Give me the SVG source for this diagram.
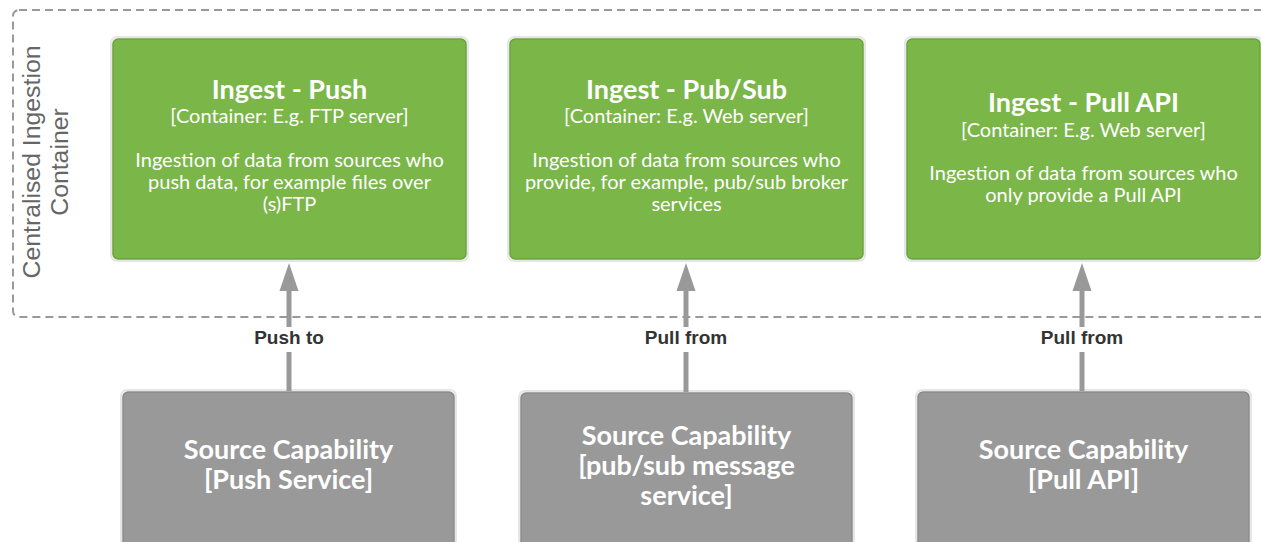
<svg xmlns="http://www.w3.org/2000/svg" width="1261" height="542" viewBox="0 0 1261 542">
<style>
.green{fill:#7ab648;stroke:#6aa23c;stroke-width:1.5}
.gray{fill:#999999;stroke:#8a8a8a;stroke-width:1.5}
.halo{fill:none;stroke:#e6e6e6;stroke-width:2}
.t{font-family:Lato,"Open Sans",sans-serif;fill:#ffffff;text-anchor:middle}
.title{font-size:27px;font-weight:bold}
.sub{font-size:20px}
.desc{font-size:20px}
.src{font-size:27px;font-weight:bold}
.lbl{font-family:"Liberation Sans",Arial,sans-serif;font-size:19px;font-weight:bold;fill:#333333;text-anchor:middle}
.cont{font-family:"Liberation Sans",Arial,sans-serif;font-size:24.8px;fill:#666666;text-anchor:middle}
.edge{stroke:#999999;stroke-width:5;fill:none}
.head{fill:#999999}
</style>
<rect width="1261" height="542" fill="#ffffff"/>
<g id="container">
<rect x="13" y="10" width="1270" height="307" rx="6" fill="none" stroke="#999999" stroke-width="2" stroke-dasharray="8,5"/>
<text class="cont" transform="translate(40,162) rotate(-90)">Centralised Ingestion</text>
<text class="cont" transform="translate(68,162) rotate(-90)">Container</text>
</g>
<g id="ingest-push">
<rect class="halo" x="111" y="37" width="357" height="224" rx="6"/>
<rect class="green" x="113" y="39" width="353" height="220" rx="5"/>
<text class="t title" x="289.5" y="99">Ingest - Push</text>
<text class="t sub" x="289.5" y="123">[Container: E.g. FTP server]</text>
<text class="t desc" x="289.5" y="167">Ingestion of data from sources who</text>
<text class="t desc" x="289.5" y="189">push data, for example files over</text>
<text class="t desc" x="289.5" y="211">(s)FTP</text>
</g>
<g id="ingest-pubsub">
<rect class="halo" x="508" y="37" width="357" height="224" rx="6"/>
<rect class="green" x="510" y="39" width="353" height="220" rx="5"/>
<text class="t title" x="686.5" y="99">Ingest - Pub/Sub</text>
<text class="t sub" x="686.5" y="123">[Container: E.g. Web server]</text>
<text class="t desc" x="686.5" y="167">Ingestion of data from sources who</text>
<text class="t desc" x="686.5" y="189">provide, for example, pub/sub broker</text>
<text class="t desc" x="686.5" y="211">services</text>
</g>
<g id="ingest-pull">
<rect class="halo" x="905" y="37" width="357" height="224" rx="6"/>
<rect class="green" x="907" y="39" width="353" height="220" rx="5"/>
<text class="t title" x="1083.5" y="112">Ingest - Pull API</text>
<text class="t sub" x="1083.5" y="137">[Container: E.g. Web server]</text>
<text class="t desc" x="1083.5" y="180">Ingestion of data from sources who</text>
<text class="t desc" x="1083.5" y="202">only provide a Pull API</text>
</g>
<g id="source-push">
<rect class="halo" x="121" y="390" width="335" height="160" rx="6"/>
<rect class="gray" x="123" y="392" width="331" height="156" rx="5"/>
<text class="t src" x="288.5" y="459">Source Capability</text>
<text class="t src" x="288.5" y="489">[Push Service]</text>
</g>
<g id="source-pubsub">
<rect class="halo" x="519" y="391" width="335" height="160" rx="6"/>
<rect class="gray" x="521" y="393" width="331" height="156" rx="5"/>
<text class="t src" x="686.5" y="445">Source Capability</text>
<text class="t src" x="686.5" y="475">[pub/sub message</text>
<text class="t src" x="686.5" y="505">service]</text>
</g>
<g id="source-pull">
<rect class="halo" x="916" y="390" width="335" height="160" rx="6"/>
<rect class="gray" x="918" y="392" width="331" height="156" rx="5"/>
<text class="t src" x="1083.5" y="459">Source Capability</text>
<text class="t src" x="1083.5" y="489">[Pull API]</text>
</g>
<g id="connectors">
<line class="edge" x1="289" y1="391" x2="289" y2="288"/>
<polygon class="head" points="289,263 298.5,291 279.5,291"/>
<rect x="246" y="327" width="86" height="25" fill="#ffffff"/>
<text class="lbl" x="289" y="344">Push to</text>
<line class="edge" x1="686" y1="392" x2="686" y2="288"/>
<polygon class="head" points="686,263 695.5,291 676.5,291"/>
<rect x="636" y="327" width="100" height="25" fill="#ffffff"/>
<text class="lbl" x="686" y="344">Pull from</text>
<line class="edge" x1="1082" y1="391" x2="1082" y2="288"/>
<polygon class="head" points="1082,263 1091.5,291 1072.5,291"/>
<rect x="1032" y="327" width="100" height="25" fill="#ffffff"/>
<text class="lbl" x="1082" y="344">Pull from</text>
</g>
</svg>
